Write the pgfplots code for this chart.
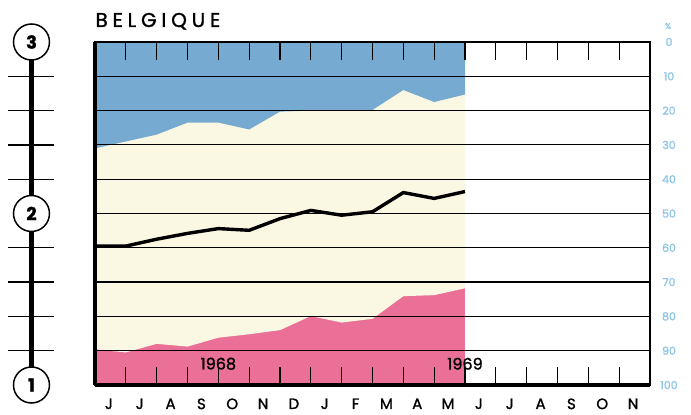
\documentclass[border=0pt]{standalone}
\usepackage{pgfplots}
\pgfplotsset{compat=1.18}
\usepackage{fontspec}
\setmainfont{Poppins}[FakeBold=1.3]
\newfontfamily\titlefont{Poppins}[LetterSpace=24, FakeBold=1.3]

\definecolor{topblue}{RGB}{118,170,208}
\definecolor{midcream}{RGB}{250,248,226}
\definecolor{lowpink}{RGB}{234,112,152}
\definecolor{pctblue}{RGB}{140,196,232}

% month index (0 = June 1968), share on top, lower boundary, average line (in %)
\pgfplotstableread{
m  top   low   score
0  31.0  89.6  59.5
1  29.0  90.5  59.5
2  27.0  88.0  57.5
3  23.5  88.8  55.8
4  23.5  86.2  54.4
5  25.5  85.2  54.9
6  20.3  84.0  51.5
7  20.0  79.9  49.1
8  20.0  81.8  50.5
9  19.8  80.7  49.5
10 14.0  74.1  43.9
11 17.5  73.8  45.6
12 15.3  71.8  43.6
}\belgique

\begin{document}
\begin{tikzpicture}
\begin{axis}[
    at={(95pt,30pt)}, anchor=south west,
    width=555pt, height=343pt, scale only axis,
    set layers, clip=false,
    xmin=0, xmax=18, ymin=0, ymax=100,
    y dir=reverse,
    xtick={0.5,1.5,...,17.5},
    xticklabels={J,J,A,S,O,N,D,J,F,M,A,M,J,J,A,S,O,N},
    minor xtick={1,...,17},
    xtick pos=both, xticklabel pos=bottom,
    major tick length=0pt, minor tick length=18pt,
    tick align=inside,
    minor tick style={black, line width=1.3pt},
    xticklabel style={font=\fontsize{15}{15}\selectfont, yshift=-10pt, xshift=-1.5pt},
    ytick={0,10,...,100},
    yticklabel pos=right,
    ytick style={draw=none},
    yticklabel style={font=\fontsize{11}{11}\selectfont, text=pctblue, anchor=center, xshift=19pt},
    /pgf/number format/assume math mode=true,
    ymajorgrids, grid style={black, line width=1.2pt},
    axis line style={black, line width=1.5pt},
]
% background areas
\addplot[fill=lowpink, draw=none, on layer=axis background] coordinates {(0,100) (12,100)} \closedcycle;
\addplot[fill=midcream, draw=none, on layer=axis background] table[x=m, y=low]{\belgique} \closedcycle;
\addplot[fill=topblue, draw=none, on layer=axis background] table[x=m, y=top]{\belgique} \closedcycle;
% average line
\addplot[black, line width=3.4pt, line join=round] table[x=m, y=score]{\belgique};

% heavy frame on left and bottom, top line
\draw[line width=4.6pt] (axis cs:0,0) -- (axis cs:0,100);
\draw[line width=4pt] (axis cs:0,100) -- (axis cs:18,100);
\draw[line width=2.2pt] (axis cs:0,0) -- (axis cs:18,0);

\node[font=\fontsize{16}{16}\selectfont] at (axis cs:4,93.8) {1968};
\node[font=\fontsize{16}{16}\selectfont] at (axis cs:12,93.8) {1969};

% left scale 1 - 3
\draw[line width=4.6pt] (axis cs:-2.06,0) -- (axis cs:-2.06,100);
\pgfplotsinvokeforeach{10,20,30,40,60,70,80,90}{
  \draw[line width=1.3pt] (axis cs:-2.83,#1) -- (axis cs:-1.32,#1);
}
\node[circle, draw, line width=1.5pt, fill=white, minimum size=36pt, inner sep=0pt,
      font=\bfseries\fontsize{18}{18}\selectfont] at (axis cs:-2.06,0) {3};
\node[circle, draw, line width=1.5pt, fill=white, minimum size=36pt, inner sep=0pt,
      font=\bfseries\fontsize{18}{18}\selectfont] at (axis cs:-2.06,50) {2};
\node[circle, draw, line width=1.5pt, fill=white, minimum size=36pt, inner sep=0pt,
      font=\bfseries\fontsize{18}{18}\selectfont] at (axis cs:-2.06,100) {1};
\end{axis}
\node[anchor=base west, font=\titlefont\fontsize{20}{20}\selectfont] at (92pt,388pt) {BELGIQUE};
\node[font=\fontsize{8}{8}\selectfont, text=pctblue] at (668pt,389pt) {\%};
\pgfresetboundingbox
\useasboundingbox (0pt,0pt) rectangle (691pt,415pt);
\end{tikzpicture}
\end{document}
